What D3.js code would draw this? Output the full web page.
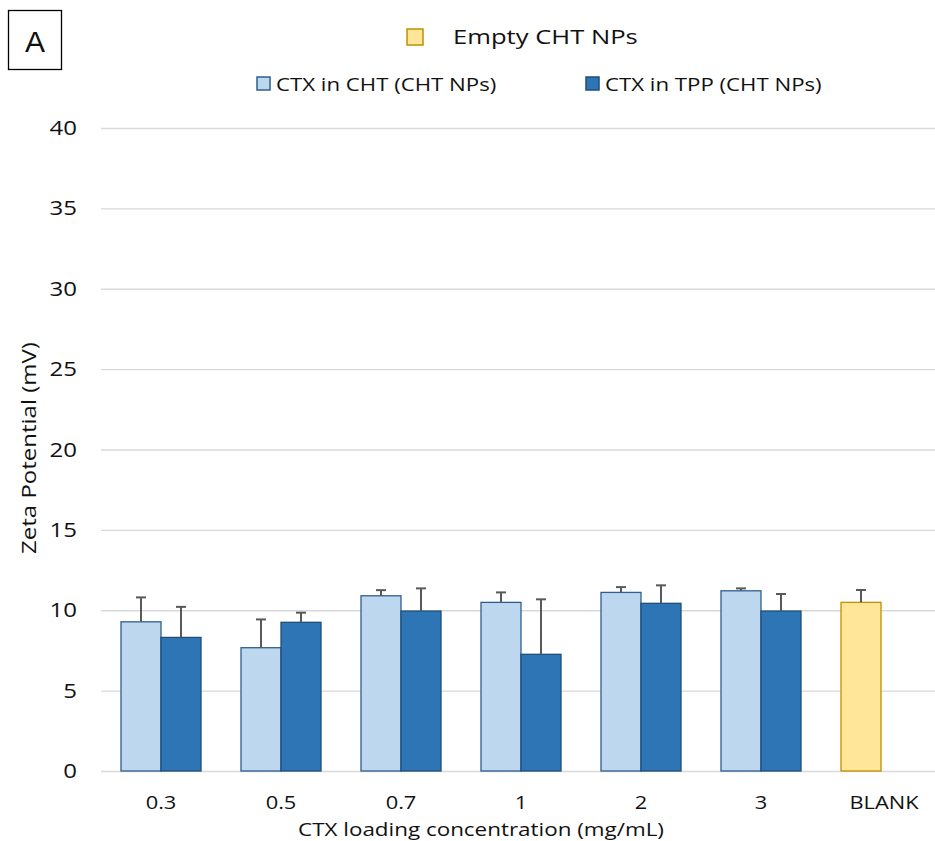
<html>
<head>
  <script src="https://d3js.org/d3.v7.min.js"></script>
  <style>
    body { margin: 0; background: #fff; }
    text { font-family: "Open Sans", sans-serif; fill: #111; }
    .gridlines line { stroke: #d9d9d9; stroke-width: 1.3; }
    .gridlines .domain { stroke: none; }
  </style>
</head>
<body>
<svg id="chart" width="935" height="841"></svg>
<script>
  // data
  const categories = ["0.3", "0.5", "0.7", "1", "2", "3", "BLANK"];
  const chtValues = [9.28, 7.67, 10.9, 10.49, 11.11, 11.21, null];
  const chtErrors = [1.52, 1.76, 0.35, 0.62, 0.33, 0.15, null];
  const tppValues = [8.31, 9.25, 9.95, 7.26, 10.43, 9.95, null];
  const tppErrors = [1.9, 0.6, 1.41, 3.42, 1.12, 1.06, null];
  const emptyValues = [null, null, null, null, null, null, 10.49];
  const emptyErrors = [null, null, null, null, null, null, 0.77];
  const yTicks = [0, 5, 10, 15, 20, 25, 30, 35, 40];

  const series = [
    {name: "CTX in CHT (CHT NPs)", values: chtValues, errors: chtErrors, slot: 0, fill: "#bdd7ee", stroke: "#2f5f8f"},
    {name: "CTX in TPP (CHT NPs)", values: tppValues, errors: tppErrors, slot: 1, fill: "#2e75b6", stroke: "#1f4e79"},
    {name: "Empty CHT NPs", values: emptyValues, errors: emptyErrors, slot: 0, fill: "#ffe699", stroke: "#bf9000"}
  ];

  const svg = d3.select("svg#chart");
  const margin = {top: 128, left: 101};
  const plotRight = 941;
  const plotBottom = 771;

  const xScale = d3.scaleBand().domain(categories).range([margin.left, plotRight]);
  const slotScale = d3.scaleBand().domain([0, 1]).range([0, xScale.bandwidth()]).paddingOuter(0.5);
  const yScale = d3.scaleLinear().domain([0, 40]).range([plotBottom, margin.top]);

  // the original's font is wider than Open Sans, so text gets stretched sideways
  function label(parent, x, y, str, size, sx, anchor, rotate) {
    let g = parent.append("g")
      .attr("transform", "translate(" + x + "," + y + ")" + (rotate ? " rotate(" + rotate + ")" : "") + " scale(" + sx + ",1)");
    return g.append("text").attr("text-anchor", anchor || "start")
      .style("font-size", size + "px").text(str);
  }

  // gridlines
  let grid = d3.axisLeft(yScale).tickValues(yTicks).tickFormat("").tickSize(-(935 - margin.left));
  svg.append("g").attr("class", "gridlines")
     .attr("transform", "translate(" + margin.left + ",0)")
     .call(grid);

  // y tick labels
  let yLabels = svg.append("g");
  yTicks.forEach(d => {
    label(yLabels, 77, yScale(d), d, 20, 1.2, "end").attr("dy", "0.35em");
  });

  // bars + error bars
  series.forEach(s => {
    let g = svg.append("g");
    categories.forEach((c, i) => {
      let v = s.values[i];
      if (v == null) return;
      let x0 = xScale(c) + slotScale(s.slot);
      let w = slotScale.bandwidth();
      g.append("rect")
       .attr("x", x0).attr("y", yScale(v))
       .attr("width", w).attr("height", yScale(0) - yScale(v))
       .attr("fill", s.fill).attr("stroke", s.stroke).attr("stroke-width", 1.3);
      let e = s.errors[i];
      let cx = x0 + w / 2;
      g.append("line")
       .attr("x1", cx).attr("x2", cx)
       .attr("y1", yScale(v)).attr("y2", yScale(v + e))
       .attr("stroke", "#595959").attr("stroke-width", 2);
      g.append("line")
       .attr("x1", cx - 5).attr("x2", cx + 5)
       .attr("y1", yScale(v + e)).attr("y2", yScale(v + e))
       .attr("stroke", "#595959").attr("stroke-width", 2);
    });
  });

  // x category labels
  let xLabels = svg.append("g");
  categories.forEach(d => {
    label(xLabels, xScale(d) + xScale.bandwidth() / 2 + (d === "BLANK" ? 3 : 0), 809, d, 19, 1.15, "middle");
  });

  // axis titles
  label(svg, 481, 836, "CTX loading concentration (mg/mL)", 19, 1.18, "middle");
  label(svg, 36, 448, "Zeta Potential (mV)", 20, 1.2, "middle", -90);

  // panel letter
  svg.append("rect").attr("x", 8.5).attr("y", 10.5).attr("width", 53).attr("height", 59)
     .attr("fill", "none").attr("stroke", "#000").attr("stroke-width", 1.3);
  svg.append("text").attr("x", 35).attr("y", 52).attr("text-anchor", "middle")
     .style("font-family", "'Liberation Sans', Arial, sans-serif").style("font-size", "30px")
     .text("A");

  // legends
  let legendItems = [
    {s: series[2], x: 407, y: 29, size: 16, tx: 453, ty: 37, fs: 20, sx: 1.28},
    {s: series[0], x: 257, y: 77, size: 13, tx: 276, ty: 84, fs: 19, sx: 1.17},
    {s: series[1], x: 586, y: 77, size: 13, tx: 605, ty: 84, fs: 19, sx: 1.17}
  ];
  legendItems.forEach(l => {
    svg.append("rect").attr("x", l.x).attr("y", l.y).attr("width", l.size).attr("height", l.size)
       .attr("fill", l.s.fill).attr("stroke", l.s.stroke).attr("stroke-width", 1.5);
    label(svg, l.tx, l.ty, l.s.name, l.fs, l.sx, "start").attr("dy", "0.35em");
  });
</script>
</body>
</html>
